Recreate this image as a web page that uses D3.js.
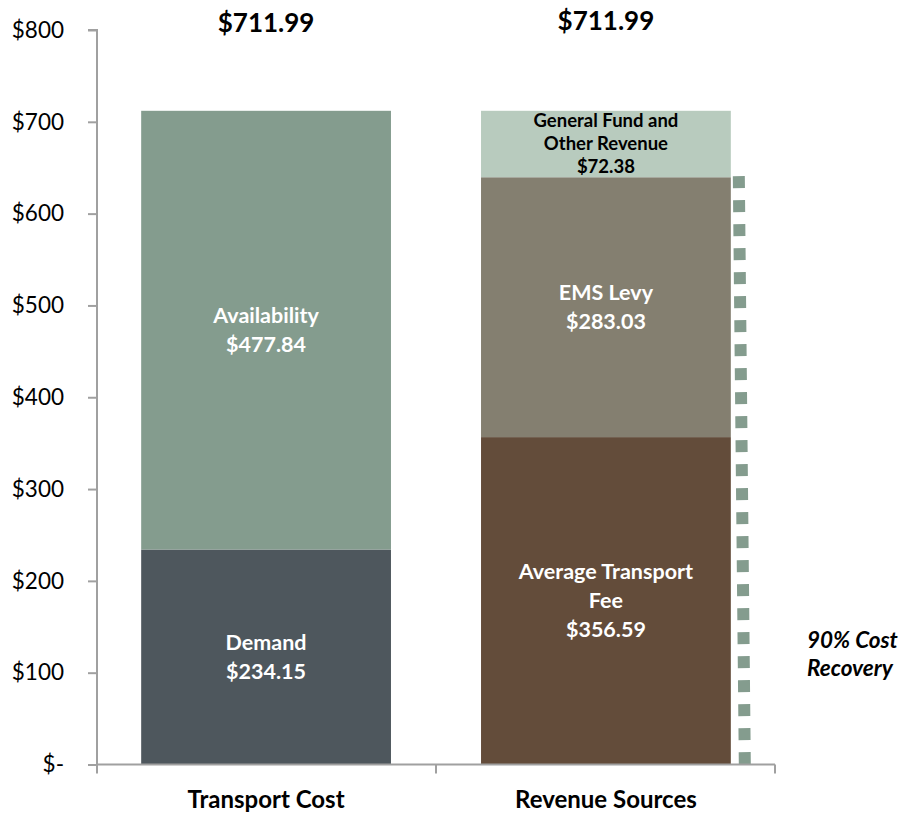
<!DOCTYPE html>
<html>
<head>
<meta charset="utf-8">
<script src="https://cdn.jsdelivr.net/npm/d3@7"></script>
<style>
  body { margin: 0; background: #fff; }
  svg { display: block; font-family: Lato, "Open Sans", sans-serif; }
</style>
</head>
<body>
<div id="chart"></div>
<script>
// data
const categories = ["Transport Cost", "Revenue Sources"];
const costLabels = [["Demand"], ["Availability"]];
const costValues = [234.15, 477.84];
const revenueLabels = [["Average Transport", "Fee"], ["EMS Levy"], ["General Fund and", "Other Revenue"]];
const revenueValues = [356.59, 283.03, 72.38];
const totals = [711.99, 711.99];
const recoveryShare = 0.9;
const yTicks = [0, 100, 200, 300, 400, 500, 600, 700, 800];

const costColors = ["#4e575d", "#849c8e"];
const revenueColors = ["#634c3a", "#847f70", "#b8cbbe"];
const revenueText = ["#fff", "#fff", "#000"];

const width = 903, height = 817;
const margin = {top: 30, right: 128, bottom: 52, left: 97};

const svg = d3.select("#chart").append("svg")
  .attr("width", width)
  .attr("height", height);

const x = d3.scaleBand()
  .domain(categories)
  .range([margin.left, width - margin.right])
  .paddingInner(0.265)
  .paddingOuter(0.13);

const xOuter = d3.scaleBand()
  .domain(categories)
  .range([margin.left, width - margin.right])
  .padding(0);

const y = d3.scaleLinear()
  .domain([0, 800])
  .range([height - margin.bottom - 0.5, margin.top]);

// stacked segments
function stack(values, labels, colors, textColors, cat, opts) {
  let base = 0;
  values.forEach((v, i) => {
    const y0 = base, y1 = base + v;
    base = y1;
    svg.append("rect")
      .attr("x", x(cat))
      .attr("width", x.bandwidth())
      .attr("y", y(y1))
      .attr("height", y(y0) - y(y1))
      .attr("fill", colors[i]);
  });
  base = 0;
  values.forEach((v, i) => {
    const mid = y(base + v / 2);
    base += v;
    const small = opts && opts.small === i;
    const fs = small ? 18.5 : 21.5, lh = small ? 23 : 29;
    const lines = labels[i].concat(["$" + d3.format(",.2f")(v)]);
    const t = svg.append("text")
      .attr("text-anchor", "middle")
      .attr("font-weight", "bold")
      .attr("font-size", fs)
      .attr("fill", textColors ? textColors[i] : "#fff");
    lines.forEach((ln, k) => {
      t.append("tspan")
        .attr("x", x(cat) + x.bandwidth() / 2)
        .attr("y", mid + (k - (lines.length - 1) / 2) * lh)
        .attr("dy", "0.35em")
        .text(ln);
    });
  });
}

stack(costValues, costLabels, costColors, null, categories[0]);
stack(revenueValues, revenueLabels, revenueColors, revenueText, categories[1], {small: 2});

// totals above the bars
svg.selectAll(".total")
  .data(totals)
  .join("text")
    .attr("class", "total")
    .attr("x", (d, i) => x(categories[i]) + x.bandwidth() / 2)
    .attr("y", (d, i) => i === 0 ? 32 : 30)
    .attr("text-anchor", "middle")
    .attr("font-weight", "bold")
    .attr("font-size", 26)
    .text(d => "$" + d3.format(".2f")(d));

// 90% cost recovery marker
const recTop = y(recoveryShare * totals[0]);
const recX = x(categories[1]) + x.bandwidth();
svg.append("line")
  .attr("x1", recX + 8).attr("y1", recTop)
  .attr("x2", recX + 14).attr("y2", y(0))
  .attr("stroke", "#849c8e")
  .attr("stroke-width", 12)
  .attr("stroke-dasharray", "12 12");

const rec = svg.append("text")
  .attr("font-weight", "bold")
  .attr("font-style", "italic")
  .attr("font-size", 22.5)
  .attr("fill", "#000");
rec.append("tspan").attr("x", 807).attr("y", 648).text("90% Cost");
rec.append("tspan").attr("x", 807).attr("y", 676).text("Recovery");

// y axis
const yAxis = svg.append("g")
  .attr("transform", `translate(${margin.left},0)`)
  .call(d3.axisLeft(y)
    .tickValues(yTicks)
    .tickSize(9)
    .tickPadding(24)
    .tickFormat(d => d === 0 ? "$-" : "$" + d));
yAxis.select(".domain").attr("stroke", "#a0a0a0").attr("stroke-width", 2)
  .attr("d", `M-9,${y(800)}H0V${y(0)}`);
yAxis.selectAll(".tick line").attr("stroke", "#a0a0a0").attr("stroke-width", 2);
yAxis.selectAll(".tick text")
  .attr("font-size", 22.5)
  .attr("font-family", "Lato, sans-serif")
  .attr("fill", "#000");

// x axis
const xAxis = svg.append("g")
  .attr("transform", `translate(0,${y(0)})`)
  .call(d3.axisBottom(x).tickSize(0).tickPadding(26));
xAxis.select(".domain").attr("stroke", "#a0a0a0").attr("stroke-width", 2)
  .attr("d", `M${margin.left},0H${width - margin.right}`);
xAxis.selectAll(".tick text")
  .attr("font-size", 24)
  .attr("font-weight", "bold")
  .attr("font-family", "Lato, sans-serif")
  .attr("fill", "#000");

const bounds = categories.map(c => xOuter(c)).concat([xOuter(categories[1]) + xOuter.bandwidth()]);
xAxis.selectAll(".bound")
  .data(bounds)
  .join("line")
    .attr("class", "bound")
    .attr("x1", d => d).attr("x2", d => d)
    .attr("y1", 0).attr("y2", 9)
    .attr("stroke", "#a0a0a0")
    .attr("stroke-width", 2);
</script>
</body>
</html>
